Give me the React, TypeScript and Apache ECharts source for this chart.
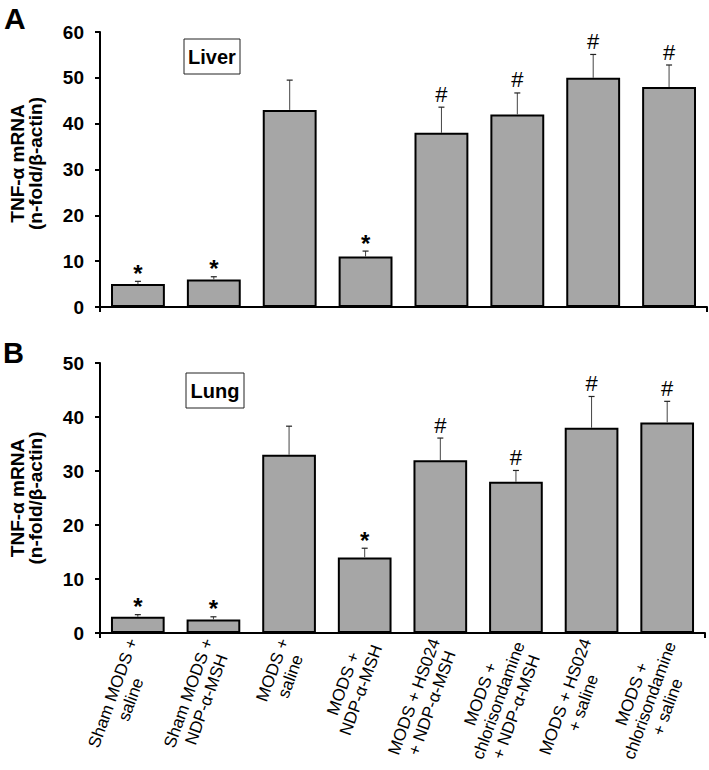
import React, { useEffect, useRef } from 'react';
import * as echarts from 'echarts';

const categories = [
  'Sham MODS +\nsaline',
  'Sham MODS +\nNDP-α-MSH',
  'MODS +\nsaline',
  'MODS +\nNDP-α-MSH',
  'MODS + HS024\n+ NDP-α-MSH',
  'MODS +\nchlorisondamine\n+ NDP-α-MSH',
  'MODS + HS024\n+ saline',
  'MODS +\nchlorisondamine\n+ saline',
];
const liverMean = [5, 6, 43, 11, 38, 42, 50, 48];
const liverSem = [0.6, 0.6, 6.5, 1.2, 5.6, 4.7, 5.1, 4.8];
const lungMean = [3, 2.5, 33, 14, 32, 28, 38, 39];
const lungSem = [0.4, 0.5, 5.3, 1.7, 4.1, 2.1, 5.8, 3.9];
const marks = ['*', '*', '', '*', '#', '#', '#', '#'];
const liverAxis = [0, 60, 10];
const lungAxis = [0, 50, 10];
const yTitle = 'TNF-α mRNA\n(n-fold/β-actin)';

const FONT = '"Liberation Sans", Arial, Helvetica, sans-serif';

const errRender = (params: any, api: any) => {
  const i = api.value(0);
  const top = api.coord([i, api.value(1)]);
  const hi = api.coord([i, api.value(2)]);
  const mark = marks[i];
  const children: any[] = [
    { type: 'line', shape: { x1: top[0], y1: top[1], x2: hi[0], y2: hi[1] }, style: { stroke: '#444', lineWidth: 1 } },
    { type: 'line', shape: { x1: hi[0] - 3, y1: hi[1], x2: hi[0] + 3, y2: hi[1] }, style: { stroke: '#222', lineWidth: 1.2 } },
  ];
  if (mark) {
    const star = mark === '*';
    children.push({
      type: 'text',
      style: {
        text: mark,
        x: hi[0],
        y: hi[1] - (star ? 8 : 13),
        align: 'center',
        verticalAlign: 'middle',
        fontFamily: FONT,
        fontSize: star ? 24 : 22,
        fontWeight: star ? 'bold' : 'normal',
        fill: '#000',
      },
    });
  }
  return { type: 'group', children };
};

const makeXAxis = (gridIndex: number, showLabels: boolean) => ({
  type: 'category',
  gridIndex,
  data: categories,
  axisLine: { show: true, lineStyle: { color: '#000', width: 2 } },
  axisTick: { show: true, interval: (i: number) => i === 0, length: 5, lineStyle: { color: '#000', width: 2 } },
  axisLabel: showLabels
    ? {
        show: true,
        interval: 0,
        rotate: 70,
        margin: 8,
        padding: [8, 0, 0, 0],
        color: '#000',
        fontFamily: FONT,
        fontSize: 17,
        lineHeight: 19,
        formatter: (v: string) => v.split('\n').map((l) => `{c|${l}}`).join('\n'),
        rich: { c: { align: 'center', fontFamily: FONT, fontSize: 17, lineHeight: 19, color: '#000' } },
      }
    : { show: false },
  splitLine: { show: false },
});

const makeYAxis = (gridIndex: number, ax: number[], pad: number) => ({
  type: 'value',
  gridIndex,
  min: ax[0],
  max: ax[1],
  interval: ax[2],
  name: yTitle,
  nameLocation: 'middle',
  nameRotate: 90,
  nameGap: 56,
  nameTextStyle: {
    fontFamily: FONT,
    fontSize: 19,
    fontWeight: 'bold',
    lineHeight: 18,
    color: '#000',
    padding: [0, 0, 0, pad],
  },
  axisLine: { show: true, lineStyle: { color: '#000', width: 2 } },
  axisTick: { show: true, length: 5, lineStyle: { color: '#000', width: 2 } },
  axisLabel: { color: '#000', fontFamily: FONT, fontSize: 19, fontWeight: 'bold', margin: 16 },
  splitLine: { show: false },
});

const barStyle = { color: '#a6a6a6', borderColor: '#000', borderWidth: 2 };

export default function App() {
  const ref = useRef<HTMLDivElement>(null);
  useEffect(() => {
    if (!ref.current) return;
    const chart = echarts.init(ref.current, null, { renderer: 'svg' });
    const boxText = (label: string, x: number, y: number, w: number, h: number) => ({
      type: 'group',
      children: [
        { type: 'rect', shape: { x, y, width: w, height: h }, style: { fill: '#fff', stroke: '#222', lineWidth: 1 } },
        {
          type: 'text',
          style: {
            text: label,
            x: x + w / 2,
            y: y + h / 2,
            align: 'center',
            verticalAlign: 'middle',
            fontFamily: FONT,
            fontSize: 20,
            fontWeight: 'bold',
            fill: '#000',
          },
        },
      ],
    });
    chart.setOption({
      animation: false,
      backgroundColor: '#fff',
      grid: [
        { left: 100, top: 32, height: 275, right: 2, outerBoundsMode: 'none', containLabel: false },
        { left: 100, top: 363, height: 270, right: 4, outerBoundsMode: 'none', containLabel: false },
      ],
      xAxis: [makeXAxis(0, false), makeXAxis(1, true)],
      yAxis: [makeYAxis(0, liverAxis, 12), makeYAxis(1, lungAxis, 0)],
      series: [
        { type: 'bar', xAxisIndex: 0, yAxisIndex: 0, data: liverMean, barWidth: '71%', itemStyle: barStyle },
        {
          type: 'custom',
          xAxisIndex: 0,
          yAxisIndex: 0,
          renderItem: errRender,
          encode: { x: 0, y: [1, 2] },
          data: liverMean.map((m, i) => [i, m, m + liverSem[i]]),
          z: 5,
        },
        { type: 'bar', xAxisIndex: 1, yAxisIndex: 1, data: lungMean, barWidth: '71%', itemStyle: barStyle },
        {
          type: 'custom',
          xAxisIndex: 1,
          yAxisIndex: 1,
          renderItem: errRender,
          encode: { x: 0, y: [1, 2] },
          data: lungMean.map((m, i) => [i, m, m + lungSem[i]]),
          z: 5,
        },
      ],
      graphic: [
        { type: 'text', left: 4, top: 3, style: { text: 'A', fontFamily: FONT, fontSize: 30, fontWeight: 'bold', fill: '#000' } },
        { type: 'text', left: 3, top: 338, style: { text: 'B', fontFamily: FONT, fontSize: 29, fontWeight: 'bold', fill: '#000' } },
        boxText('Liver', 184, 39, 56, 35),
        boxText('Lung', 186, 373, 58, 35),
      ],
    });
    return () => chart.dispose();
  }, []);
  return <div ref={ref} style={{ position: 'absolute', left: 0, top: 0, width: 709, height: 770 }} />;
}
